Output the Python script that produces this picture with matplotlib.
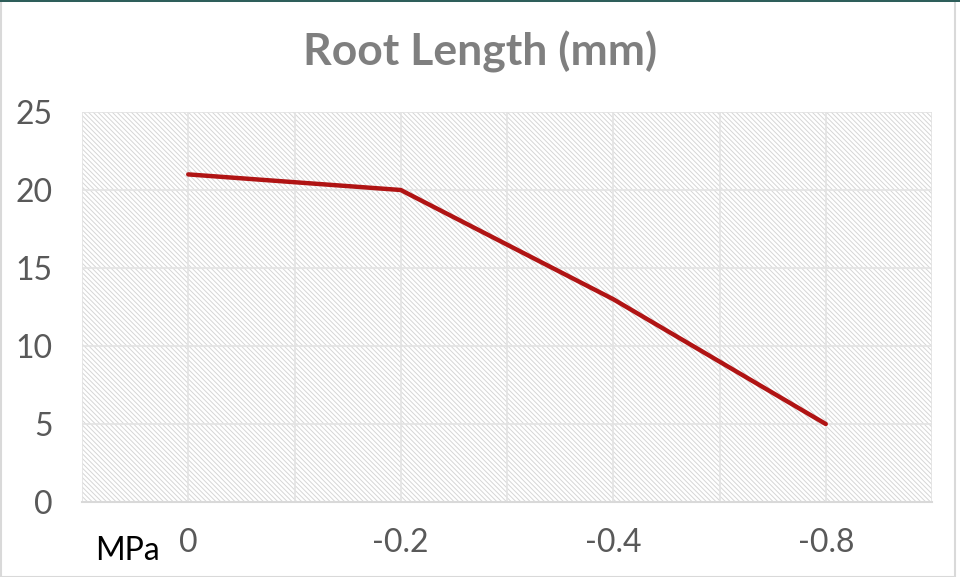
import matplotlib
matplotlib.use('Agg')
import matplotlib.pyplot as plt
from matplotlib.patches import Rectangle

# --- DATA ---
categories = ['0', '-0.2', '-0.4', '-0.8']
root_length = [21, 20, 13, 5]
y_ticks = [0, 5, 10, 15, 20, 25]

plt.rcParams['font.family'] = ['Lato', 'DejaVu Sans']
plt.rcParams['hatch.color'] = '#d6d6d6'
plt.rcParams['hatch.linewidth'] = 0.7

fig = plt.figure(figsize=(9.6, 5.77), dpi=100)
ax = fig.add_axes([82 / 960, 1 - 502 / 577, 850 / 960, 390 / 577])

# hatched plot area
ax.patch.set_facecolor('white')
ax.patch.set_hatch('\\\\\\\\\\\\\\')
ax.patch.set_edgecolor('#d6d6d6')
ax.patch.set_linewidth(0)

x = list(range(len(categories)))
ax.plot(x, root_length, color='#b01414', linewidth=3.2, solid_capstyle='round', zorder=3)

ax.set_xlim(-0.5, len(categories) - 0.5)
ax.set_ylim(0, 25)
ax.set_yticks(y_ticks)
ax.set_xticks(x)
ax.set_xticklabels(categories)
ax.set_xticks([i - 0.5 for i in range(len(categories) + 1)], minor=True)

ax.grid(True, which='major', color='#e3e3e3', linewidth=1.2)
ax.grid(True, which='minor', axis='x', color='#e3e3e3', linewidth=1.2)
ax.set_axisbelow(True)

for side in ['top', 'right', 'left']:
    ax.spines[side].set_visible(False)
ax.spines['bottom'].set_color('#d9d9d9')
ax.spines['bottom'].set_linewidth(1.5)

ax.tick_params(axis='both', which='both', length=0, labelsize=23, labelcolor='#595959')
ax.tick_params(axis='x', pad=19)
ax.tick_params(axis='y', pad=21)

fig.text(0.5, 1 - 52 / 577, 'Root Length (mm)', ha='center', va='center',
         fontsize=32, fontweight='bold', color='#7f7f7f')
fig.text(95 / 960, 1 - 551 / 577, 'MPa', ha='left', va='center', fontsize=23, color='black')

# chart frame
fig.patches.append(Rectangle((0.5 / 960, 0), 1 - 6 / 960, 1 - 1 / 577, transform=fig.transFigure,
                             fill=False, edgecolor='#d9d9d9', linewidth=1.5))
fig.patches.append(Rectangle((0, 1 - 2 / 577), 1, 2 / 577, transform=fig.transFigure,
                             facecolor='#2e5e5a', edgecolor='none'))

plt.savefig('out.png', dpi=100)
plt.close()
